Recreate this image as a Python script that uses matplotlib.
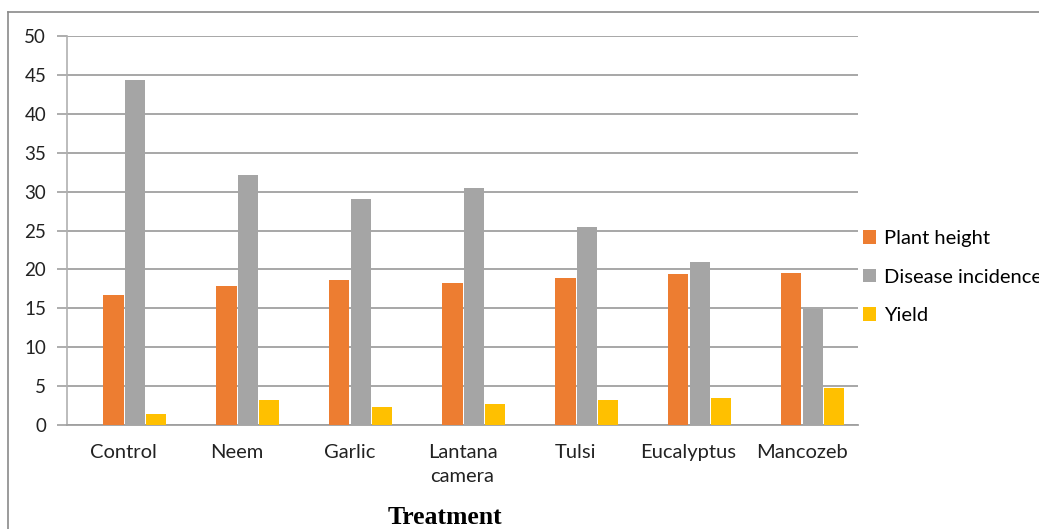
import matplotlib
matplotlib.use("Agg")
import matplotlib.pyplot as plt
from matplotlib.lines import Line2D
from matplotlib.patches import Patch
import numpy as np

treatments = ["Control", "Neem", "Garlic", "Lantana\ncamera", "Tulsi", "Eucalyptus", "Mancozeb"]
plant_height = [16.7, 17.9, 18.6, 18.2, 18.9, 19.35, 19.6]
disease_incidence = [44.4, 32.15, 29.0, 30.4, 25.4, 20.9, 14.85]
yield_vals = [1.45, 3.2, 2.3, 2.75, 3.2, 3.47, 4.75]

series_names = ["Plant height", "Disease incidence", "Yield"]
series_colors = ["#ED7D31", "#A5A5A5", "#FFC000"]
y_ticks = [0, 5, 10, 15, 20, 25, 30, 35, 40, 45, 50]

plt.rcParams["font.family"] = ["Lato", "DejaVu Sans"]

fig = plt.figure(figsize=(10.39, 5.29), dpi=100)
ax = fig.add_axes([67 / 1039, 1 - 425 / 529, (858 - 67) / 1039, (425 - 36) / 529])

x = np.arange(len(treatments))
bar_w = 0.18
step = 0.19
shift = 0.1
for k, (vals, col) in enumerate(zip([plant_height, disease_incidence, yield_vals], series_colors)):
    ax.bar(x + (k - 1) * step + shift, vals, width=bar_w, color=col, zorder=3)

ax.set_xlim(-0.5, len(treatments) - 0.5)
ax.set_ylim(0, 50)
ax.set_yticks(y_ticks)
ax.set_yticklabels([str(t) for t in y_ticks], fontsize=13.5, color="#222222")
ax.set_xticks(x)
ax.set_xticklabels(treatments, fontsize=14.5, color="#222222", linespacing=1.5)
ax.tick_params(axis="x", length=0, pad=14)
ax.tick_params(axis="y", length=7, width=1.2, color="#a0a0a0", pad=8)

ax.yaxis.grid(True, color="#a0a0a0", linewidth=1.3, zorder=0)
ax.set_axisbelow(True)
for side in ["top", "right"]:
    ax.spines[side].set_visible(False)
ax.spines["left"].set_color("#b0b0b0")
ax.spines["left"].set_linewidth(1.2)
ax.spines["bottom"].set_color("#a0a0a0")
ax.spines["bottom"].set_linewidth(1.3)

fig.text(445 / 1039, 1 - 517 / 529, "Treatment", ha="center", va="center",
         fontsize=18.5, fontweight="bold", family="Liberation Serif")

handles = [Patch(facecolor=c, edgecolor="none") for c in series_colors]
fig.legend(handles, series_names, loc="upper left",
           bbox_to_anchor=(855 / 1039, 1 - 222 / 529), frameon=False,
           fontsize=14.5, handlelength=0.65, handleheight=0.65, handletextpad=0.4,
           labelspacing=1.07, borderaxespad=0)

# outer chart border (top and left edges)
fig.add_artist(Line2D([8 / 1039, 8 / 1039], [0, 1 - 12 / 529], transform=fig.transFigure,
                      color="#8a8a8a", linewidth=1.2))
fig.add_artist(Line2D([8 / 1039, 1], [1 - 12 / 529, 1 - 12 / 529], transform=fig.transFigure,
                      color="#8a8a8a", linewidth=1.2))

fig.savefig("out.png", dpi=100, facecolor="white")
